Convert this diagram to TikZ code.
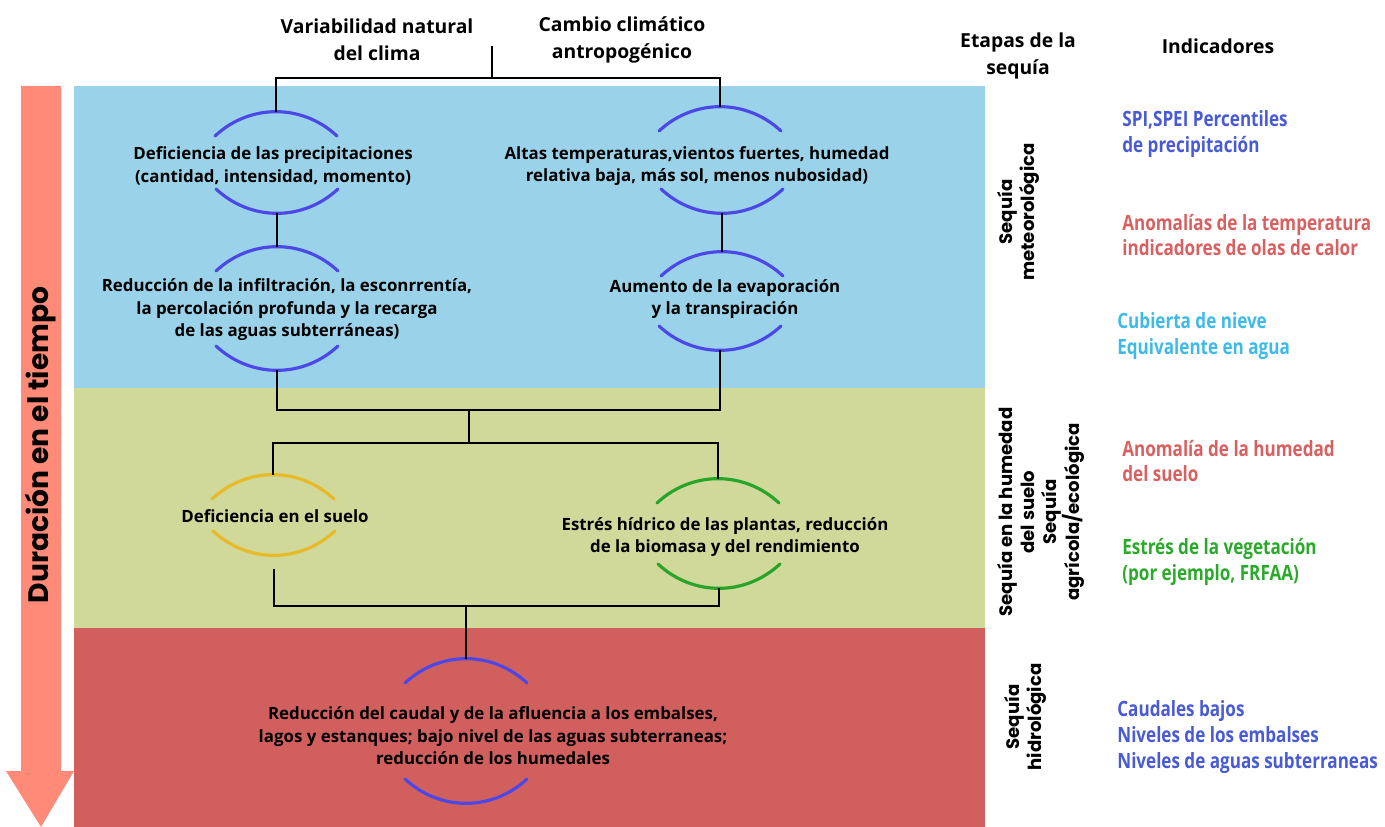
\documentclass[tikz,border=0pt]{standalone}
\usepackage{fontspec}
\setmainfont{Open Sans}
\newfontfamily\phasefont{Poppins}
\newfontfamily\indfont{Open Sans}[FakeStretch=0.81]
\definecolor{SkyBand}{RGB}{154,211,233}
\definecolor{OliveBand}{RGB}{208,216,154}
\definecolor{RedBand}{RGB}{209,95,94}
\definecolor{Salmon}{RGB}{255,138,120}
\definecolor{LensBlue}{RGB}{76,72,232}
\definecolor{LensYellow}{RGB}{232,186,40}
\definecolor{LensGreen}{RGB}{40,165,40}
\definecolor{IndBlue}{RGB}{72,90,212}
\definecolor{IndRed}{RGB}{217,96,96}
\definecolor{IndCyan}{RGB}{62,186,234}
\definecolor{IndGreen}{RGB}{42,170,42}
\tikzset{
  stage/.style={align=center,inner sep=0pt,
    font=\bfseries\fontsize{9.6}{12.8}\selectfont},
  head/.style={align=center,inner sep=0pt,
    font=\bfseries\fontsize{11}{15.3}\selectfont},
  phase/.style={rotate=90,align=center,inner sep=0pt,
    font=\phasefont\bfseries\fontsize{10.3}{12.5}\selectfont},
  indicator/.style={anchor=west,align=left,inner sep=0pt,
    font=\indfont\bfseries\fontsize{12}{14.7}\selectfont},
  link/.style={line width=1.1pt},
  lens/.style={line width=1.8pt,line cap=round}
}

\begin{document}
\begin{tikzpicture}[x=0.02cm,y=-0.02cm]
  \useasboundingbox (0,0) rectangle (1385,827);

  % bands and time arrow
  \fill[SkyBand] (74,86) rectangle (985,388);
  \fill[OliveBand] (74,388) rectangle (985,628);
  \fill[RedBand] (74,628) rectangle (985,827);
  \fill[Salmon] (21,86) -- (61,86) -- (61,771) -- (74,771) -- (41,827)
    -- (6,771) -- (21,771) -- cycle;
  \node[rotate=90,inner sep=0pt,font=\phasefont\bfseries\fontsize{16}{16}\selectfont]
    (duration) at (41,445) {Duración en el tiempo};

  \node[head] (natural) at (377,40) {Variabilidad natural\\del clima};
  \node[head] (anthro) at (622,40) {Cambio climático\\antropogénico};
  \node[head] (etapas) at (1018,56) {Etapas de la\\sequía};
  \node[head] (indic) at (1218,46) {Indicadores};

  \node[stage] (prec) at (273,166) {Deficiencia de las precipitaciones\\(cantidad, intensidad, momento)};
  \node[stage] (heat) at (697,166) {Altas temperaturas,vientos fuertes, humedad\\relativa baja, más sol, menos nubosidad)};
  \node[stage] (infil) at (287,310) {Reducción de la infiltración, la esconrrentía,\\la percolación profunda y la recarga\\de las aguas subterráneas)};
  \node[stage] (evap) at (725,299) {Aumento de la evaporación\\y la transpiración};
  \node[stage] (soil) at (275,516) {Deficiencia en el suelo};
  \node[stage] (plant) at (725,537) {Estrés hídrico de las plantas, reducción\\de la biomasa y del rendimiento};
  \node[stage] (flow) at (493,736) {Reducción del caudal y de la afluencia a los embalses,\\lagos y estanques; bajo nivel de las aguas subterraneas;\\reducción de los humedales};

  \coordinate (prec-t) at (276,112);  \coordinate (prec-b) at (277,213);
  \coordinate (heat-t) at (720,107);  \coordinate (heat-b) at (722,213);
  \coordinate (infil-t) at (277,247); \coordinate (infil-b) at (277,370);
  \coordinate (evap-t) at (722,252);  \coordinate (evap-b) at (720,350);
  \coordinate (soil-t) at (273,475);  \coordinate (soil-b) at (274,555);
  \coordinate (plant-t) at (718,479); \coordinate (plant-b) at (719,588);
  \coordinate (flow-t) at (466,659);  \coordinate (flow-b) at (466,803);

  \foreach \n/\c in {prec/LensBlue,heat/LensBlue,infil/LensBlue,evap/LensBlue,
                     soil/LensYellow,plant/LensGreen,flow/LensBlue}{
    \draw[lens,\c] ([shift={(-61,24)}]\n-t) to[bend left=43] ([shift={(61,24)}]\n-t);
    \draw[lens,\c] ([shift={(-61,-24)}]\n-b) to[bend right=43] ([shift={(61,-24)}]\n-b);
  }

  % tree of connectors
  \coordinate (cause) at (492,46);
  \coordinate (j1) at (492,78);
  \coordinate (j2) at (469,410);
  \coordinate (j3) at (469,443);
  \coordinate (j4) at (466,606);
  \draw[link] (cause) -- (j1);
  \draw[link] (prec-t) |- (j1) -| (heat-t);
  \draw[link] (prec-b) -- (infil-t);
  \draw[link] (heat-b) -- (evap-t);
  \draw[link] (infil-b) |- (j2) -| (evap-b);
  \draw[link] (j2) -- (j3);
  \draw[link] (soil-t) |- (j3) -| (plant-t);
  \draw[link] ([shift={(0,14)}]soil-b) |- (j4) -| (plant-b);
  \draw[link] (j4) -- (flow-t);

  \node[phase] (meteo) at (1018,212) {Sequía\\meteorológica};
  \node[phase] (agri) at (1041,512) {Sequía en la humedad\\del suelo\\Sequía\\agrícola/ecológica};
  \node[phase] (hydro) at (1025,717) {Sequía\\hidrológica};

  \node[indicator,IndBlue] (spi) at (1122,134) {SPI,SPEI Percentiles\\de precipitación};
  \node[indicator,IndRed] (temp) at (1122,235) {Anomalías de la temperatura\\indicadores de olas de calor};
  \node[indicator,IndCyan] (snow) at (1117,336) {Cubierta de nieve\\Equivalente en agua};
  \node[indicator,IndRed] (moist) at (1122,461) {Anomalía de la humedad\\del suelo};
  \node[indicator,IndGreen] (veg) at (1122,562) {Estrés de la vegetación\\(por ejemplo, FRFAA)};
  \node[indicator,IndBlue] (flowind) at (1117,737) {Caudales bajos\\Niveles de los embalses\\Niveles de aguas subterraneas};
\end{tikzpicture}
\end{document}
